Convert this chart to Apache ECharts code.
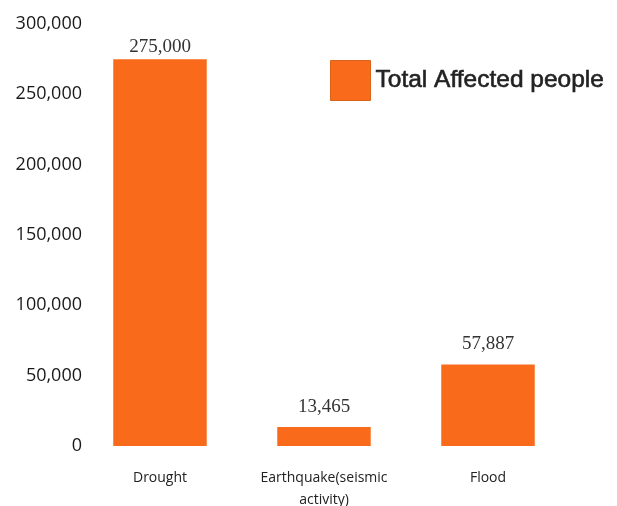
<!DOCTYPE html>
<html>
<head>
<meta charset="utf-8">
<script src="https://cdn.jsdelivr.net/npm/echarts@6/dist/echarts.min.js"></script>
<style>
  html, body { margin: 0; padding: 0; background: #fff; }
  #chart { width: 617px; height: 506px; }
</style>
</head>
<body>
<div id="chart"></div>
<script>
const categories = ['Drought', 'Earthquake(seismic\nactivity)', 'Flood'];
const affected = [275000, 13465, 57887];
const seriesName = 'Total Affected people';

const chart = echarts.init(document.getElementById('chart'));

const fmt = (v) => Number(v).toLocaleString('en-US');

const option = {
  animation: false,
  legend: {
    left: 330,
    top: 60,
    padding: 0,
    itemWidth: 40,
    itemHeight: 40,
    itemGap: 6,
    icon: 'rect',
    textStyle: {
      fontFamily: 'Liberation Sans',
      fontSize: 24.5,
      color: '#222',
      textBorderColor: '#222',
      textBorderWidth: 0.6,
      padding: [0, 0, 10, 0],
    },
    data: [{ name: seriesName, itemStyle: { borderColor: '#d8631d', borderWidth: 1 } }],
  },
  grid: {
    left: 78,
    right: 47,
    top: 24,
    bottom: 60,
    outerBoundsMode: 'none',
    containLabel: false,
  },
  xAxis: {
    type: 'category',
    data: categories,
    axisLine: { show: false },
    axisTick: { show: false },
    axisLabel: {
      interval: 0,
      margin: 21,
      fontFamily: 'Open Sans',
      fontSize: 14,
      lineHeight: 22,
      color: '#222',
    },
  },
  yAxis: {
    type: 'value',
    min: 0,
    max: 300000,
    interval: 50000,
    axisLine: { show: false },
    axisTick: { show: false },
    splitLine: { show: false },
    axisLabel: {
      margin: -4,
      fontFamily: 'Open Sans',
      fontSize: 18,
      color: '#1a1a1a',
      formatter: fmt,
    },
  },
  series: [
    {
      name: seriesName,
      type: 'bar',
      // the tallest bar's label sits closer to it (near the chart top)
      data: affected.map((v, i) => ({ value: v, label: { distance: i === 0 ? 3 : 11 } })),
      barWidth: '57%',
      itemStyle: { color: '#f96a1b' },
      label: {
        show: true,
        position: 'top',
        fontFamily: 'Liberation Serif',
        fontSize: 19,
        color: '#333',
        formatter: (p) => fmt(p.value),
      },
    },
  ],
};

chart.setOption(option);
</script>
</body>
</html>
